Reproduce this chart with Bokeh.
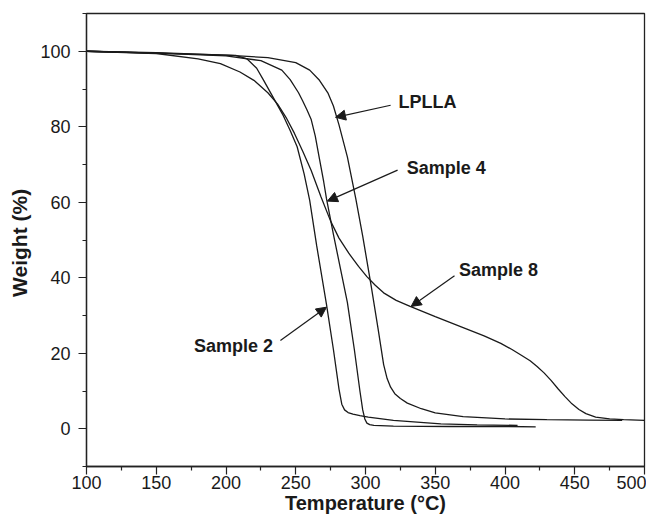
from bokeh.plotting import figure
from bokeh.models import FixedTicker, Arrow, NormalHead, Label, Range1d
from bokeh.embed import file_html
from bokeh.resources import INLINE

# ---- data ----
lplla_t = [100, 150, 200, 230, 250, 260, 267, 273, 277, 281, 287, 293, 298, 304, 309, 313, 315.5, 318, 321, 325, 330, 340, 350, 370, 400, 430, 460, 484]
lplla_w = [100, 99.6, 99.0, 98.3, 97, 95, 92.3, 89, 85.5, 80.5, 72, 61, 51, 38, 26.5, 17, 13.3, 11, 9.3, 8, 6.8, 5.3, 4.2, 3.2, 2.6, 2.4, 2.3, 2.2]

s4_t = [100, 150, 200, 225, 240, 246, 252, 255, 258, 261, 264, 267, 270, 272, 277, 282, 287, 292, 296, 298, 299.5, 301, 303, 306, 320, 360, 400, 422]
s4_w = [100, 99.5, 98.8, 97.5, 95, 92.5, 89, 86.8, 84.5, 82, 77.5, 71.5, 65.5, 61, 51.5, 42.5, 33.5, 21, 10, 5, 2.6, 1.5, 1.1, 0.9, 0.7, 0.6, 0.6, 0.5]

s2_t = [100, 150, 200, 207, 215, 222, 227, 235, 241, 246, 251, 256, 260, 265, 272, 277, 281, 283, 285, 287.5, 291, 296, 302, 320, 354, 380, 409]
s2_w = [100, 99.5, 99, 98.9, 98, 95.5, 92.3, 87, 83, 79, 74.7, 67.5, 60.5, 48.5, 33, 21, 10.5, 6.5, 5, 4.3, 3.9, 3.5, 3.1, 2.2, 1.3, 1.0, 0.9]

s8_t = [100, 150, 180, 196, 210, 220, 230, 237, 243, 249, 255, 261, 268, 275, 281, 288, 295, 301, 307, 313, 322, 332, 350, 370, 385, 397, 405, 412, 418, 423, 428, 433, 438, 443, 448, 453, 458, 465, 475, 485, 500]
s8_w = [100, 99.4, 98, 96.7, 94.5, 92.3, 89, 86, 82.5, 78.3, 73.5, 68.5, 61.5, 55, 50.5, 46.5, 43, 40.3, 38, 36, 34, 32.4, 29.7, 26.8, 24.6, 22.6, 21, 19.4, 18, 16.5, 14.8, 12.8, 10.6, 8.5, 6.6, 5.1, 4, 3.1, 2.6, 2.4, 2.2]

series_t = [lplla_t, s4_t, s2_t, s8_t]
series_w = [lplla_w, s4_w, s2_w, s8_w]

# annotation labels: text, left x, middle y
label_texts = ["LPLLA", "Sample 4", "Sample 8", "Sample 2"]
label_x = [323.7, 329.5, 367, 177]
label_y = [86.6, 69, 42, 21.8]
# arrows: tail -> tip
arrow_x0 = [318, 323, 363.8, 239]
arrow_y0 = [85.7, 68.5, 40.5, 23.4]
arrow_x1 = [278.5, 272.7, 332.7, 272]
arrow_y1 = [82.5, 60.3, 32.4, 32.2]

x_major = [100, 150, 200, 250, 300, 350, 400, 450, 500]
x_minor = [125, 175, 225, 275, 325, 375, 425, 475]
y_major = [0, 20, 40, 60, 80, 100]
y_minor = [-10, 10, 30, 50, 70, 90, 110]

FONT = "Liberation Sans"

p = figure(width=646, height=516, output_backend="svg", toolbar_location=None,
           x_range=Range1d(100, 500), y_range=Range1d(-10, 110),
           min_border_left=86, min_border_right=2, min_border_top=13, min_border_bottom=48)
p.grid.visible = False
p.outline_line_color = "#222222"
p.outline_line_width = 1.3
p.background_fill_color = "white"
p.border_fill_color = "white"

for t, w in zip(series_t, series_w):
    p.line(t, w, line_color="#1a1a1a", line_width=1.3)

for ax, maj, mn in ((p.xaxis[0], x_major, x_minor), (p.yaxis[0], y_major, y_minor)):
    ax.ticker = FixedTicker(ticks=maj, minor_ticks=mn)
    ax.major_tick_out = 8
    ax.major_tick_in = 0
    ax.minor_tick_out = 4
    ax.minor_tick_in = 0
    ax.axis_line_color = "#222222"
    ax.axis_line_width = 1.3
    ax.major_tick_line_color = "#222222"
    ax.minor_tick_line_color = "#222222"
    ax.major_tick_line_width = 1.2
    ax.minor_tick_line_width = 1.2
    ax.major_label_text_font = FONT
    ax.major_label_text_font_size = "18px"
    ax.major_label_text_color = "#1a1a1a"
    ax.axis_label_text_font = FONT
    ax.axis_label_text_font_style = "bold"
    ax.axis_label_text_color = "#1a1a1a"

p.xaxis.axis_label = "Temperature (°C)"
p.yaxis.axis_label = "Weight  (%)"
p.xaxis.axis_label_text_font_size = "20px"
p.yaxis.axis_label_text_font_size = "21px"
p.xaxis.major_label_standoff = 1
p.xaxis.axis_label_standoff = 0
p.yaxis.major_label_standoff = 8
p.yaxis.axis_label_standoff = 6

for txt, x, y in zip(label_texts, label_x, label_y):
    p.add_layout(Label(x=x, y=y, text=txt, text_font=FONT, text_font_style="bold",
                       text_font_size="18px", text_align="left", text_baseline="middle",
                       text_color="#1a1a1a"))

for x0, y0, x1, y1 in zip(arrow_x0, arrow_y0, arrow_x1, arrow_y1):
    p.add_layout(Arrow(x_start=x0, y_start=y0, x_end=x1, y_end=y1,
                       line_color="#1a1a1a", line_width=1.2,
                       end=NormalHead(size=10, fill_color="#1a1a1a", line_color="#1a1a1a")))

open("out.html", "w").write(file_html(p, INLINE))
